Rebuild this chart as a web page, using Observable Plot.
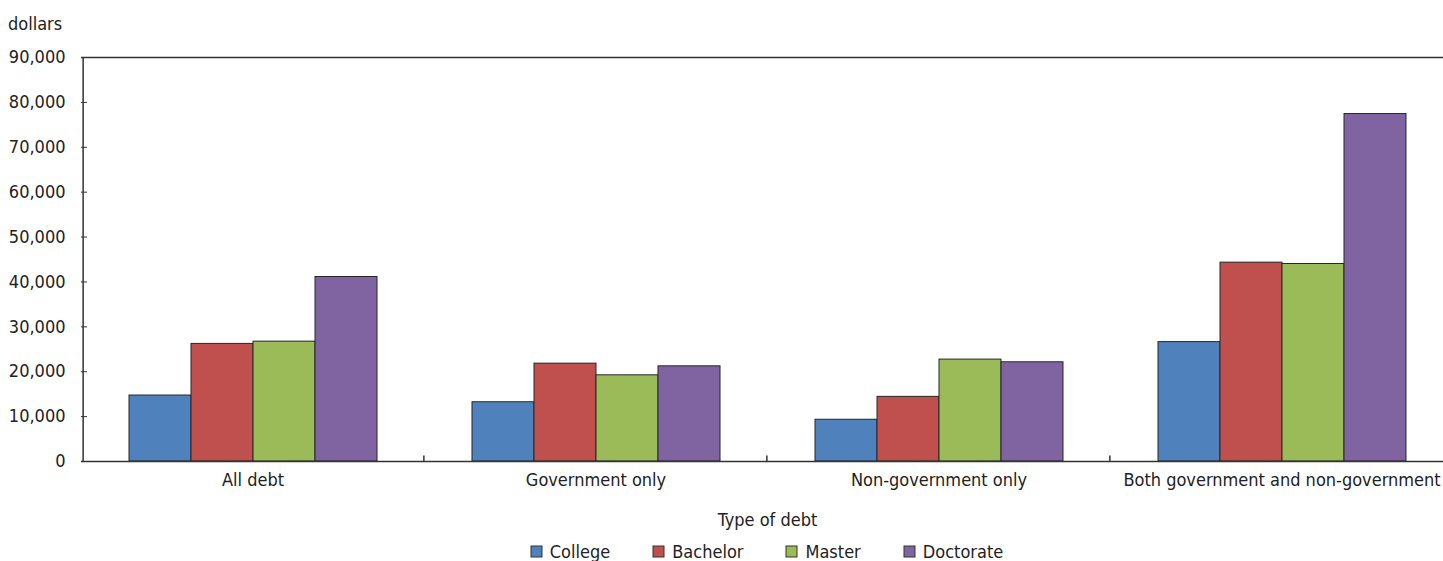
<!DOCTYPE html>
<html>
<head>
<meta charset="utf-8">
<script src="https://cdn.jsdelivr.net/npm/d3@7"></script>
<script src="https://cdn.jsdelivr.net/npm/@observablehq/plot@0.6"></script>
<style>
  html, body { margin: 0; padding: 0; background: #fff; width: 1443px; height: 561px; overflow: hidden; }
  body { position: relative; font-family: "DejaVu Sans Condensed", "Liberation Sans Narrow", sans-serif; color: #222; }
  #chart { position: absolute; left: 0; top: 0; }
  #unit { position: absolute; left: 8px; top: 15px; font-size: 18px; line-height: 18px; }
  #legend { position: absolute; left: 81px; top: 541px; width: 1372px; }
  .lg-swatches { justify-content: center; min-height: 20px !important; margin: 0 !important; }
  .lg-swatch { margin-right: 43px !important; }
  .lg-swatch:last-child { margin-right: 0 !important; }
  .lg-swatch > svg { margin-right: 8px !important; overflow: visible; }
  .lg-swatch rect { stroke: #333; stroke-width: 1; }
</style>
</head>
<body>
<div id="unit">dollars</div>
<div id="chart"></div>
<div id="legend"></div>
<script>
// Average student debt by type of debt and level of study
const types = ["All debt", "Government only", "Non-government only", "Both government and non-government"];
const levels = ["College", "Bachelor", "Master", "Doctorate"];
const college   = [14700, 13200,  9300, 26600];
const bachelor  = [26200, 21800, 14400, 44300];
const master    = [26700, 19200, 22700, 44000];
const doctorate = [41100, 21200, 22100, 77400];
const colors = ["#4F81BD", "#C0504D", "#9BBB59", "#8064A2"];
const yTicks = [0, 10000, 20000, 30000, 40000, 50000, 60000, 70000, 80000, 90000];

const series = [college, bachelor, master, doctorate];
const rows = types.flatMap((t, i) => levels.map((l, j) => ({type: t, level: l, value: series[j][i]})));

const FONT = '"DejaVu Sans Condensed", "Liberation Sans Narrow", sans-serif';
const W = 1443, ML = 81, MR = -10;
const groupWidth = (W - ML - MR) / types.length;
const PAD = 0.733;                                   // outer padding of the bars in each group
const step = groupWidth / (levels.length + 2 * PAD);
const edge = step * (0.5 + PAD);                     // from an outer bar's centre to the group edge

const chart = Plot.plot({
  width: W,
  height: 533,
  marginTop: 57,
  marginLeft: ML,
  marginRight: MR,
  marginBottom: 72,
  style: {fontFamily: FONT, fontSize: "18px", color: "#222", background: "transparent", overflow: "visible"},
  fx: {domain: types, padding: 0},
  x: {domain: levels, paddingInner: 0, paddingOuter: PAD, axis: null},
  y: {domain: [0, 90000]},
  color: {domain: levels, range: colors},
  marks: [
    Plot.barY(rows, {fx: "type", x: "level", y: "value", fill: "level", stroke: "#262626", strokeWidth: 1}),
    Plot.ruleY([0, 90000], {stroke: "#333", strokeWidth: 1.5}),
    // vertical axis line on the left of the first group
    Plot.ruleX([types[0]], {fx: d => d, x: () => levels[0], dx: -edge, y1: 0, y2: 90000, stroke: "#333", strokeWidth: 1.5}),
    // small separators between the groups
    Plot.ruleX(types.slice(0, 3), {fx: d => d, x: () => levels[3], dx: edge, y1: 0, y2: 1200, stroke: "#333", strokeWidth: 1.5}),
    Plot.axisY(yTicks, {tickFormat: d3.format(","), tickSize: -6, tickPadding: 22, label: null, stroke: "#333"}),
    Plot.axisFx({anchor: "bottom", tickSize: 0, tickPadding: 12, label: "Type of debt", labelAnchor: "center", labelOffset: 64})
  ]
});
document.getElementById("chart").append(chart);

const legend = Plot.legend({
  color: {domain: levels, range: colors},
  swatchSize: 11,
  className: "lg",
  style: {fontFamily: FONT, fontSize: "18px", color: "#222"}
});
document.getElementById("legend").append(legend);
</script>
</body>
</html>
